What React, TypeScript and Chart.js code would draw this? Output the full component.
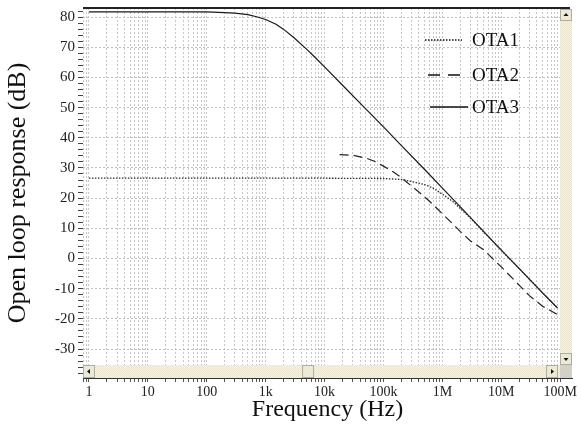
import React, { useEffect, useRef } from 'react';
import { Chart, registerables } from 'chart.js';

Chart.register(...registerables);

const seriesNames = ['OTA1', 'OTA2', 'OTA3'];

const ota1Freq = [1, 10, 100, 1e3, 1e4, 1e5, 2e5, 3e5, 5e5, 7e5, 1e6, 1.5e6, 2e6, 3e6, 5e6, 1e7, 2e7, 5e7, 9e7];
const ota1Gain = [26.6, 26.6, 26.6, 26.6, 26.6, 26.5, 26.2, 25.5, 24.5, 23.3, 21.3, 18.9, 16.6, 13.4, 8.8, 2.7, -3.3, -11.3, -16.4];

const ota2Freq = [1.8e4, 3e4, 5e4, 7e4, 1e5, 1.5e5, 2e5, 3e5, 5e5, 7e5, 1e6, 1.5e6, 2e6, 3e6, 5e6, 1e7, 2e7, 3e7, 5e7, 9e7];
const ota2Gain = [34.4, 34.2, 33.3, 32.2, 30.6, 28.6, 26.8, 24.0, 20.4, 17.8, 14.8, 11.5, 9.0, 5.8, 2.9, -2.8, -8.8, -12.3, -15.8, -18.6];

const ota3Freq = [1, 10, 100, 200, 300, 500, 700, 1e3, 1.5e3, 2e3, 3e3, 5e3, 7e3, 1e4, 2e4, 5e4, 1e5, 2e5, 5e5, 1e6, 2e6, 5e6, 1e7, 2e7, 5e7, 9e7];
const ota3Gain = [81.7, 81.7, 81.7, 81.5, 81.3, 80.8, 80.1, 79.2, 77.6, 76.0, 73.2, 69.3, 66.5, 63.5, 57.5, 49.6, 43.6, 37.5, 29.5, 23.3, 17.2, 9.0, 2.8, -3.3, -11.4, -16.4];

const xDecades = [1, 10, 100, 1e3, 1e4, 1e5, 1e6, 1e7, 1e8];
const xTickLabels = ['1', '10', '100', '1k', '10k', '100k', '1M', '10M', '100M'];
const xMultiples = [1, 2, 3, 4, 5, 6, 7, 8, 9];
const xMin = 0.794;
const xMax = 1.585e8;
const yMin = -39.6;
const yMax = 83;

const SERIF = "'Liberation Serif', 'DejaVu Serif', serif";

const toPoints = (xs: number[], ys: number[]) => xs.map((x, i) => ({ x, y: ys[i] }));

const decoPlugin = {
  id: 'deco',
  afterDatasetsDraw(chart: any) {
    const ctx = chart.ctx;
    const rows = [40, 75, 107];
    chart.data.datasets.forEach((ds: any, i: number) => {
      ctx.save();
      ctx.strokeStyle = '#111';
      ctx.lineWidth = 1.3;
      ctx.setLineDash(i === 0 ? [1.5, 1.5] : i === 1 ? [12, 8] : []);
      ctx.beginPath();
      const x0 = i === 0 ? 425 : i === 1 ? 428 : 430;
      const x1 = i === 0 ? 462 : i === 1 ? 461 : 468;
      ctx.moveTo(x0, rows[i]);
      ctx.lineTo(x1, rows[i]);
      ctx.stroke();
      ctx.setLineDash([]);
      ctx.fillStyle = '#111';
      ctx.font = `19px ${SERIF}`;
      ctx.textBaseline = 'middle';
      ctx.textAlign = 'left';
      ctx.fillText(ds.label, 472, rows[i] + 1);
      ctx.restore();
    });
  },
  afterDraw(chart: any) {
    const ctx = chart.ctx;
    const ca = chart.chartArea;
    ctx.save();
    ctx.strokeStyle = '#222';
    ctx.lineWidth = 2;
    ctx.beginPath();
    ctx.moveTo(ca.left, ca.top);
    ctx.lineTo(ca.right - 2, ca.top);
    ctx.stroke();

    const pc = document.createElement('canvas');
    pc.width = 2;
    pc.height = 2;
    const pctx = pc.getContext('2d')!;
    pctx.fillStyle = '#f6f4ea';
    pctx.fillRect(0, 0, 2, 2);
    pctx.fillStyle = '#e8e4d0';
    pctx.fillRect(0, 0, 1, 1);
    pctx.fillRect(1, 1, 1, 1);
    const pat = ctx.createPattern(pc, 'repeat');

    const barH = 13;
    const barW = 12;
    const hTop = ca.bottom - barH;
    const vLeft = ca.right - barW;
    ctx.fillStyle = pat;
    ctx.fillRect(ca.left, hTop, ca.right - ca.left, barH);
    ctx.fillRect(vLeft, ca.top + 1, barW, hTop - ca.top - 1);

    const button = (x: number, y: number, w: number, h: number) => {
      ctx.fillStyle = '#ece9d8';
      ctx.fillRect(x, y, w, h);
      ctx.strokeStyle = '#b0ad9e';
      ctx.lineWidth = 1;
      ctx.strokeRect(x + 0.5, y + 0.5, w - 1, h - 1);
    };
    const tri = (cx: number, cy: number, dir: string) => {
      ctx.fillStyle = '#111';
      ctx.beginPath();
      if (dir === 'left') { ctx.moveTo(cx - 2, cy); ctx.lineTo(cx + 1, cy - 2.5); ctx.lineTo(cx + 1, cy + 2.5); }
      if (dir === 'right') { ctx.moveTo(cx + 2, cy); ctx.lineTo(cx - 1, cy - 2.5); ctx.lineTo(cx - 1, cy + 2.5); }
      if (dir === 'up') { ctx.moveTo(cx, cy - 2); ctx.lineTo(cx - 2.5, cy + 1); ctx.lineTo(cx + 2.5, cy + 1); }
      if (dir === 'down') { ctx.moveTo(cx, cy + 2); ctx.lineTo(cx - 2.5, cy - 1); ctx.lineTo(cx + 2.5, cy - 1); }
      ctx.closePath();
      ctx.fill();
    };
    button(ca.left, hTop, 12, barH);
    tri(ca.left + 6, hTop + barH / 2, 'left');
    const tx = ca.left + (ca.right - ca.left) * 0.448;
    button(tx, hTop, 12, barH);
    button(vLeft - 14, hTop, 12, barH);
    tri(vLeft - 8, hTop + barH / 2, 'right');
    ctx.fillStyle = '#d4d0c8';
    ctx.fillRect(vLeft, hTop, barW, barH);
    button(vLeft, ca.top + 1, barW, 12);
    tri(vLeft + barW / 2, ca.top + 7, 'up');
    button(vLeft, hTop - 12, barW, 12);
    tri(vLeft + barW / 2, hTop - 6, 'down');
    ctx.restore();
  },
};

export default function App() {
  const ref = useRef<HTMLCanvasElement | null>(null);

  useEffect(() => {
    document.body.style.margin = '0';
    const canvas = ref.current;
    if (!canvas) return;

    const xGridValues: number[] = [];
    [0.1, ...xDecades].forEach((d) => {
      xMultiples.forEach((m) => {
        const v = d * m;
        if (v >= xMin && v <= xMax) xGridValues.push(v);
      });
    });

    const isDecade = (v: number) => {
      const l = Math.log10(v);
      return v >= 1 && Math.abs(l - Math.round(l)) < 1e-9;
    };

    const chart = new Chart(canvas, {
      type: 'line',
      data: {
        datasets: [
          {
            label: seriesNames[0],
            data: toPoints(ota1Freq, ota1Gain),
            borderColor: '#2a2a2a',
            borderWidth: 1.3,
            borderDash: [1.5, 1.5],
            pointRadius: 0,
            fill: false,
          },
          {
            label: seriesNames[1],
            data: toPoints(ota2Freq, ota2Gain),
            borderColor: '#222',
            borderWidth: 1.2,
            borderDash: [9, 5],
            pointRadius: 0,
            fill: false,
          },
          {
            label: seriesNames[2],
            data: toPoints(ota3Freq, ota3Gain),
            borderColor: '#1a1a1a',
            borderWidth: 1.2,
            pointRadius: 0,
            fill: false,
          },
        ],
      },
      options: {
        responsive: false,
        animation: false,
        parsing: false as any,
        layout: { padding: { left: 0, right: 9, top: 8, bottom: 0 } },
        plugins: {
          legend: { display: false },
          tooltip: { enabled: false },
        },
        scales: {
          x: {
            type: 'logarithmic',
            min: xMin,
            max: xMax,
            afterBuildTicks: (s: any) => {
              s.ticks = xGridValues.map((v) => ({ value: v }));
            },
            afterFit: (s: any) => {
              s.height = 47;
              s.paddingLeft = 0;
              s.paddingRight = 0;
            },
            ticks: {
              autoSkip: false,
              maxRotation: 0,
              minRotation: 0,
              padding: 2,
              color: '#222',
              font: { family: SERIF, size: 14 },
              callback: (v: any) => {
                const n = Number(v);
                if (!isDecade(n)) return '';
                const i = xDecades.findIndex((d) => Math.abs(d - n) / d < 1e-9);
                return i >= 0 ? xTickLabels[i] : '';
              },
            },
            grid: { color: '#c6c6c6', lineWidth: 1, tickLength: 4, tickColor: '#555' },
            border: { display: true, color: '#333', width: 1, dash: [2, 2] },
            title: {
              display: true,
              text: 'Frequency (Hz)',
              color: '#111',
              font: { family: SERIF, size: 24 },
              padding: { top: 0, bottom: 1 },
            },
          },
          y: {
            type: 'linear',
            min: yMin,
            max: yMax,
            afterFit: (s: any) => {
              s.width = 83;
              s.paddingTop = 0;
              s.paddingBottom = 0;
            },
            ticks: {
              stepSize: 2,
              includeBounds: false,
              autoSkip: false,
              padding: 3,
              color: '#222',
              font: { family: SERIF, size: 15 },
              callback: (v: any) => (Math.round(Number(v)) % 10 === 0 ? String(Math.round(Number(v))) : ''),
            },
            grid: {
              color: (c: any) => (c.tick && Math.round(c.tick.value) % 10 === 0 ? '#c0c0c0' : 'rgba(0,0,0,0)'),
              lineWidth: 1,
              tickLength: 5,
              tickColor: '#444',
            },
            border: { display: false, dash: [2, 2] },
            title: {
              display: true,
              text: 'Open loop response (dB)',
              color: '#111',
              font: { family: SERIF, size: 26 },
              padding: { top: 3, bottom: 0 },
            },
          },
        },
      } as any,
      plugins: [decoPlugin],
    });

    return () => chart.destroy();
  }, []);

  return (
    <div style={{ position: 'absolute', left: 0, top: 0, width: 581, height: 425, background: '#fff' }}>
      <canvas ref={ref} width={581} height={425} style={{ display: 'block', width: 581, height: 425 }} />
    </div>
  );
}
